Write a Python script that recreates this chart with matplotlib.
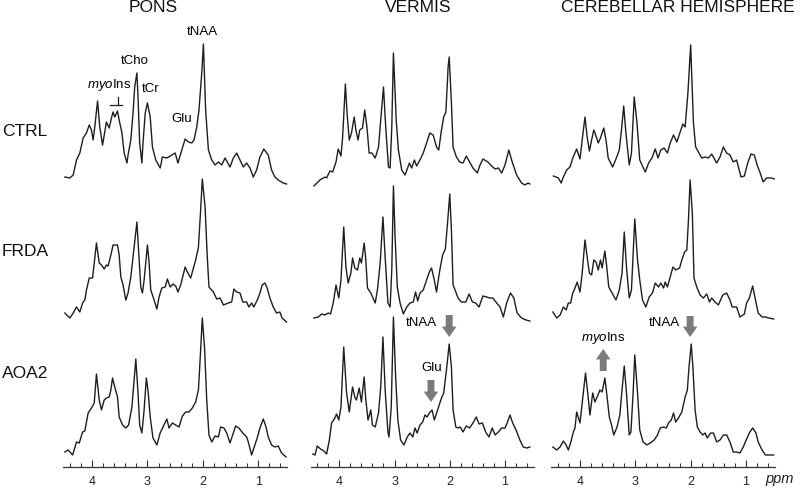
import matplotlib
matplotlib.use('Agg')
import matplotlib.pyplot as plt

plt.rcParams['font.family'] = ['Liberation Sans', 'DejaVu Sans']
plt.rcParams['mathtext.fontset'] = 'custom'
plt.rcParams['mathtext.it'] = 'Liberation Sans:italic'
plt.rcParams['mathtext.rm'] = 'Liberation Sans'

# ---------------- data ----------------
regions = ['PONS', 'VERMIS', 'CEREBELLAR HEMISPHERE']
groups = ['CTRL', 'FRDA', 'AOA2']
major_ticks = [4, 3, 2, 1]
minor_ticks = [4.4, 4.2, 3.8, 3.6, 3.4, 3.2, 2.8, 2.6, 2.4, 2.2, 1.8, 1.6, 1.4, 1.2, 0.8, 0.6]

pons_ctrl_ppm = [4.49,4.40,4.34,4.28,4.22,4.16,4.10,4.05,4.01,3.98,3.95,3.90,3.86,3.81,3.77,3.74,3.69,3.65,3.62,3.59,
                 3.54,3.51,3.46,3.42,3.37,3.35,3.30,3.26,3.23,3.19,3.17,3.14,3.10,3.08,3.04,3.00,2.95,2.91,2.85,2.77,
                 2.73,2.65,2.56,2.50,2.45,2.38,2.32,2.26,2.20,2.16,2.11,2.07,2.02,1.99,1.95,1.90,1.84,1.78,1.72,1.66,
                 1.60,1.51,1.45,1.39,1.33,1.27,1.21,1.15,1.09,1.03,0.97,0.90,0.82,0.76,0.70,0.64,0.55,0.49]
pons_ctrl_amp = [13,12,15,30,37,52,57,65,60,50,63,89,63,45,58,68,62,72,78,73,
                 79,70,57,37,27,35,50,77,103,117,93,47,27,47,77,87,73,43,30,22,
                 33,32,35,37,27,40,51,48,47,50,63,80,117,146,80,40,30,25,28,25,
                 32,23,32,37,30,23,27,22,13,20,33,41,35,20,13,10,7,6]

vermis_ctrl_ppm = [4.46,4.35,4.26,4.23,4.17,4.12,4.06,4.02,3.97,3.94,3.89,3.86,3.82,3.78,3.73,3.70,3.66,3.63,3.58,3.54,
                   3.50,3.46,3.41,3.35,3.29,3.25,3.20,3.16,3.11,3.08,3.05,3.02,2.97,2.93,2.87,2.81,2.73,2.69,2.64,2.60,
                   2.54,2.48,2.42,2.36,2.30,2.24,2.20,2.15,2.11,2.07,2.03,2.01,1.97,1.94,1.88,1.82,1.76,1.70,1.64,1.58,
                   1.50,1.46,1.40,1.31,1.24,1.18,1.12,1.06,1.00,0.93,0.88,0.79,0.70,0.64,0.58,0.55]
vermis_ctrl_amp = [4,10,13,12,19,18,28,41,34,53,106,77,50,57,73,60,50,60,62,80,
                   63,37,37,32,43,70,103,63,23,22,63,137,70,40,20,15,27,22,30,24,
                   30,37,47,57,55,43,40,60,73,78,123,133,87,43,33,28,27,34,28,22,
                   17,24,31,28,24,21,22,17,25,40,30,15,7,5,7,6]

cereb_ctrl_ppm = [4.48,4.39,4.34,4.30,4.24,4.18,4.13,4.06,4.00,3.96,3.91,3.87,3.83,3.79,3.75,3.71,3.67,3.63,3.57,3.53,
                  3.49,3.41,3.35,3.29,3.25,3.21,3.17,3.11,3.07,3.02,2.97,2.92,2.82,2.76,2.70,2.64,2.59,2.54,2.48,2.42,
                  2.37,2.31,2.25,2.19,2.14,2.10,2.05,2.00,1.95,1.91,1.86,1.80,1.74,1.68,1.62,1.53,1.47,1.41,1.35,1.29,
                  1.23,1.17,1.09,1.03,0.97,0.91,0.85,0.80,0.75,0.69,0.63,0.54,0.49]
cereb_ctrl_amp = [14,12,7,13,20,23,32,41,31,50,73,53,39,50,60,54,47,52,62,50,
                  32,23,31,40,60,84,57,25,37,93,67,30,18,27,32,41,32,40,42,37,
                  47,55,48,58,66,63,97,145,67,43,38,32,33,32,36,27,33,43,37,35,
                  28,30,13,14,27,36,35,25,18,8,12,12,11]

pons_frda_ppm = [4.49,4.40,4.34,4.28,4.22,4.17,4.13,4.10,4.05,3.99,3.96,3.92,3.87,3.83,3.78,3.74,3.71,3.66,3.62,3.54,
                 3.51,3.48,3.44,3.39,3.35,3.30,3.24,3.19,3.16,3.12,3.09,3.06,3.00,2.97,2.94,2.88,2.83,2.79,2.74,2.68,
                 2.64,2.59,2.54,2.49,2.45,2.40,2.32,2.28,2.22,2.17,2.13,2.08,2.04,2.01,1.96,1.92,1.89,1.81,1.75,1.69,
                 1.63,1.54,1.48,1.44,1.39,1.33,1.28,1.21,1.17,1.12,1.08,1.01,0.97,0.93,0.88,0.84,0.79,0.73,0.67,0.61,
                 0.57,0.49]
pons_frda_amp = [2,-3,2,8,3,12,15,25,37,37,52,72,52,50,46,50,49,60,70,70,
                 60,38,30,15,22,38,68,93,65,28,22,35,70,52,25,15,6,18,27,28,
                 36,28,31,29,23,30,48,43,37,47,55,68,105,136,108,58,28,23,16,17,
                 10,12,13,26,23,22,13,13,8,12,8,16,22,30,32,27,17,8,2,3,
                 -3,-7]

vermis_frda_ppm = [4.46,4.38,4.32,4.26,4.20,4.16,4.11,4.06,4.01,3.97,3.92,3.88,3.84,3.79,3.76,3.72,3.67,3.63,3.60,3.55,
                   3.52,3.49,3.43,3.35,3.31,3.26,3.21,3.17,3.12,3.08,3.05,3.02,2.99,2.95,2.90,2.84,2.78,2.72,2.66,2.62,
                   2.58,2.54,2.48,2.42,2.37,2.33,2.28,2.24,2.18,2.13,2.08,2.04,2.00,1.97,1.94,1.89,1.85,1.79,1.71,1.65,
                   1.59,1.53,1.47,1.40,1.33,1.28,1.22,1.15,1.09,1.03,0.97,0.90,0.84,0.78,0.70,0.62,0.55]
vermis_frda_amp = [-3,-2,1,0,2,1,12,30,17,35,88,48,32,42,57,47,45,57,52,72,
                   55,27,22,12,25,52,98,58,12,8,45,129,78,28,12,1,8,12,13,23,
                   14,22,25,35,43,47,35,23,45,60,66,92,121,85,30,23,17,13,13,21,
                   13,12,8,19,18,17,17,12,8,-2,12,22,17,2,-3,-5,-6]

cereb_frda_ppm = [4.49,4.42,4.36,4.30,4.25,4.21,4.17,4.13,4.09,4.05,4.00,3.96,3.91,3.87,3.83,3.79,3.75,3.71,3.67,3.63,
                  3.60,3.55,3.52,3.48,3.43,3.35,3.29,3.24,3.20,3.16,3.11,3.07,3.01,2.96,2.92,2.87,2.81,2.75,2.69,2.64,
                  2.58,2.54,2.49,2.46,2.42,2.37,2.32,2.27,2.20,2.16,2.11,2.07,2.04,2.01,1.97,1.94,1.89,1.83,1.77,1.71,
                  1.66,1.62,1.56,1.50,1.42,1.35,1.29,1.25,1.17,1.11,1.03,0.99,0.94,0.88,0.84,0.78,0.71,0.65,0.59,0.50]
cereb_frda_amp = [3,-3,0,8,5,12,12,22,27,33,23,42,75,58,42,40,55,53,45,55,
                  47,64,50,28,23,15,25,42,83,48,17,25,96,55,35,15,8,18,22,32,
                  28,32,27,33,28,38,48,45,47,55,63,65,95,135,102,37,28,20,17,21,
                  13,17,13,10,20,22,15,8,8,-2,1,12,17,29,18,2,-2,-2,-3,-4]

pons_aoa2_ppm = [4.49,4.43,4.35,4.28,4.23,4.17,4.13,4.07,4.01,3.96,3.92,3.87,3.83,3.78,3.74,3.69,3.66,3.63,3.59,3.54,
                 3.51,3.45,3.39,3.34,3.28,3.24,3.21,3.17,3.14,3.10,3.06,3.02,2.99,2.95,2.90,2.83,2.77,2.72,2.65,2.61,
                 2.55,2.49,2.43,2.37,2.31,2.25,2.19,2.13,2.08,2.04,2.01,1.97,1.93,1.89,1.84,1.78,1.72,1.68,1.62,1.57,
                 1.51,1.45,1.41,1.35,1.28,1.21,1.18,1.12,1.08,1.02,0.97,0.91,0.86,0.82,0.76,0.70,0.64,0.58,0.50]
pons_aoa2_amp = [8,10,5,18,17,28,29,47,52,57,86,60,50,60,62,63,70,82,73,63,
                 43,35,32,35,53,80,101,67,35,27,50,82,70,43,22,15,27,33,41,32,
                 37,35,33,44,48,48,52,58,70,110,142,113,60,25,18,24,23,33,32,27,
                 17,27,34,32,27,23,18,5,12,22,32,41,33,23,15,13,14,7,3]

vermis_aoa2_ppm = [4.48,4.44,4.40,4.34,4.28,4.23,4.18,4.14,4.08,4.05,4.01,3.97,3.92,3.87,3.82,3.76,3.72,3.69,3.64,3.60,
                   3.55,3.52,3.48,3.43,3.40,3.35,3.29,3.25,3.21,3.17,3.12,3.10,3.06,3.02,2.98,2.94,2.89,2.83,2.77,2.72,
                   2.67,2.63,2.59,2.54,2.49,2.45,2.41,2.37,2.32,2.28,2.22,2.15,2.11,2.06,2.01,1.97,1.94,1.89,1.85,1.81,
                   1.76,1.70,1.64,1.58,1.52,1.47,1.41,1.35,1.29,1.23,1.18,1.12,1.06,1.00,0.96,0.91,0.86,0.80,0.73,0.67,
                   0.60,0.55]
vermis_aoa2_amp = [6,5,14,11,9,6,20,37,42,46,40,53,113,68,48,73,63,60,72,58,
                   83,60,40,50,35,33,47,73,123,70,28,23,53,143,83,40,20,15,23,27,
                   23,32,27,35,38,45,43,47,50,40,50,62,67,90,116,93,50,33,32,33,
                   28,34,32,37,43,36,37,28,23,32,25,28,32,32,37,45,37,30,20,13,
                   12,13]

cereb_aoa2_ppm = [4.49,4.42,4.36,4.30,4.25,4.21,4.17,4.12,4.09,4.06,4.00,3.96,3.90,3.86,3.82,3.77,3.73,3.69,3.64,3.60,
                  3.55,3.51,3.47,3.43,3.39,3.33,3.28,3.24,3.20,3.16,3.11,3.08,3.04,3.01,2.96,2.92,2.86,2.79,2.73,2.66,
                  2.60,2.55,2.49,2.44,2.40,2.35,2.31,2.27,2.22,2.16,2.10,2.06,2.03,1.99,1.96,1.92,1.88,1.83,1.78,1.74,
                  1.70,1.64,1.59,1.53,1.47,1.41,1.35,1.29,1.23,1.17,1.11,1.05,0.99,0.93,0.88,0.82,0.78,0.71,0.65,0.59,
                  0.50]
cereb_aoa2_amp = [13,10,13,19,15,10,17,28,32,48,37,57,87,67,45,67,58,63,70,68,
                  82,63,43,35,25,33,45,70,94,67,25,28,67,105,67,30,18,15,17,20,
                  25,32,33,32,37,40,47,38,42,48,63,70,93,116,93,50,33,28,25,27,
                  22,27,27,18,20,25,25,18,8,8,7,13,21,28,32,27,18,10,5,5,
                  5]

spectra = [
    [(pons_ctrl_ppm, pons_ctrl_amp), (pons_frda_ppm, pons_frda_amp), (pons_aoa2_ppm, pons_aoa2_amp)],
    [(vermis_ctrl_ppm, vermis_ctrl_amp), (vermis_frda_ppm, vermis_frda_amp), (vermis_aoa2_ppm, vermis_aoa2_amp)],
    [(cereb_ctrl_ppm, cereb_ctrl_amp), (cereb_frda_ppm, cereb_frda_amp), (cereb_aoa2_ppm, cereb_aoa2_amp)],
]

# ---------------- layout ----------------
W, H = 800, 488
fig = plt.figure(figsize=(W / 100, H / 100), dpi=100)

col_px = [(63.2, 287.1), (310.6, 533.7), (551.2, 774.8)]
axis_y_px = 466.7
top_px = 20.0
ytop = axis_y_px - top_px
row_offsets = [276.7, 151.7, 6.7]
line_color = '#1e1e1e'

axes = []
for ci, (l, r) in enumerate(col_px):
    ax = fig.add_axes([l / W, 1 - axis_y_px / H, (r - l) / W, ytop / H])
    ax.set_xlim(4.52, 0.48)
    ax.set_ylim(0, ytop)
    for ri, (ppm, amp) in enumerate(spectra[ci]):
        ax.plot(ppm, [a + row_offsets[ri] for a in amp], color=line_color, lw=1.0,
                solid_joinstyle='round', clip_on=False)
    for s in ['top', 'left', 'right']:
        ax.spines[s].set_visible(False)
    ax.spines['bottom'].set_linewidth(0.9)
    ax.spines['bottom'].set_color('#333333')
    ax.set_yticks([])
    ax.set_xticks(major_ticks)
    ax.set_xticklabels([str(t) for t in major_ticks])
    ax.set_xticks(minor_ticks, minor=True)
    ax.tick_params(axis='x', which='major', direction='in', length=5.2, width=0.8,
                   color='#333333', labelsize=9, pad=6.5, labelcolor='#222222')
    ax.tick_params(axis='x', which='minor', direction='in', length=2.6, width=0.8, color='#333333')
    ax.patch.set_visible(False)
    axes.append(ax)

# column titles
title_x = [153, 418, 678]
for name, x in zip(regions, title_x):
    fig.text(x / W, 1 - 8 / H, name, ha='center', va='center', fontsize=12.5, color='#111111')

# row labels
row_y = [132, 252, 373]
for name, y in zip(groups, row_y):
    fig.text(2 / W, 1 - y / H, name, ha='left', va='center', fontsize=12.5, color='#111111')

fig.text(780 / W, 1 - 479 / H, 'ppm', ha='center', va='center', fontsize=10.5,
         style='italic', color='#222222')

# ---------------- peak annotations (pons, CTRL) ----------------
def d(ypx):
    return axis_y_px - ypx

axp = axes[0]
lab_fs = 9.5
axp.text(2.00, d(32), 'tNAA', ha='center', va='center', fontsize=lab_fs)
axp.text(3.22, d(61), 'tCho', ha='center', va='center', fontsize=lab_fs)
axp.text(2.94, d(89), 'tCr', ha='center', va='center', fontsize=lab_fs)
axp.text(3.70, d(85), r'$\mathit{myo}$Ins', ha='center', va='center', fontsize=lab_fs)
axp.text(2.38, d(119), 'Glu', ha='center', va='center', fontsize=lab_fs)
axp.plot([3.54, 3.54], [d(96.5), d(105)], color=line_color, lw=0.9)
axp.plot([3.68, 3.46], [d(105), d(105)], color=line_color, lw=0.9)

# ---------------- arrows ----------------
arrow_color = '#7b7b7b'
astyle = 'simple,head_length=0.75,head_width=1.05,tail_width=0.5'


def block_arrow(ax, x, y_from_px, y_to_px):
    ax.annotate('', xy=(x, d(y_to_px)), xytext=(x, d(y_from_px)),
                arrowprops=dict(arrowstyle=astyle, fc=arrow_color, ec='none',
                                shrinkA=0, shrinkB=0, mutation_scale=10))


axv = axes[1]
axv.text(2.52, d(323), 'tNAA', ha='center', va='center', fontsize=lab_fs)
block_arrow(axv, 2.01, 315, 337)
axv.text(2.33, d(368), 'Glu', ha='center', va='center', fontsize=lab_fs)
block_arrow(axv, 2.34, 380, 402)

axc = axes[2]
axc.text(3.58, d(338), r'$\mathit{myo}$Ins', ha='center', va='center', fontsize=lab_fs)
block_arrow(axc, 3.58, 371, 349)
axc.text(2.48, d(323), 'tNAA', ha='center', va='center', fontsize=lab_fs)
block_arrow(axc, 2.01, 316, 337)

fig.savefig('out.png', dpi=100, facecolor='white')
